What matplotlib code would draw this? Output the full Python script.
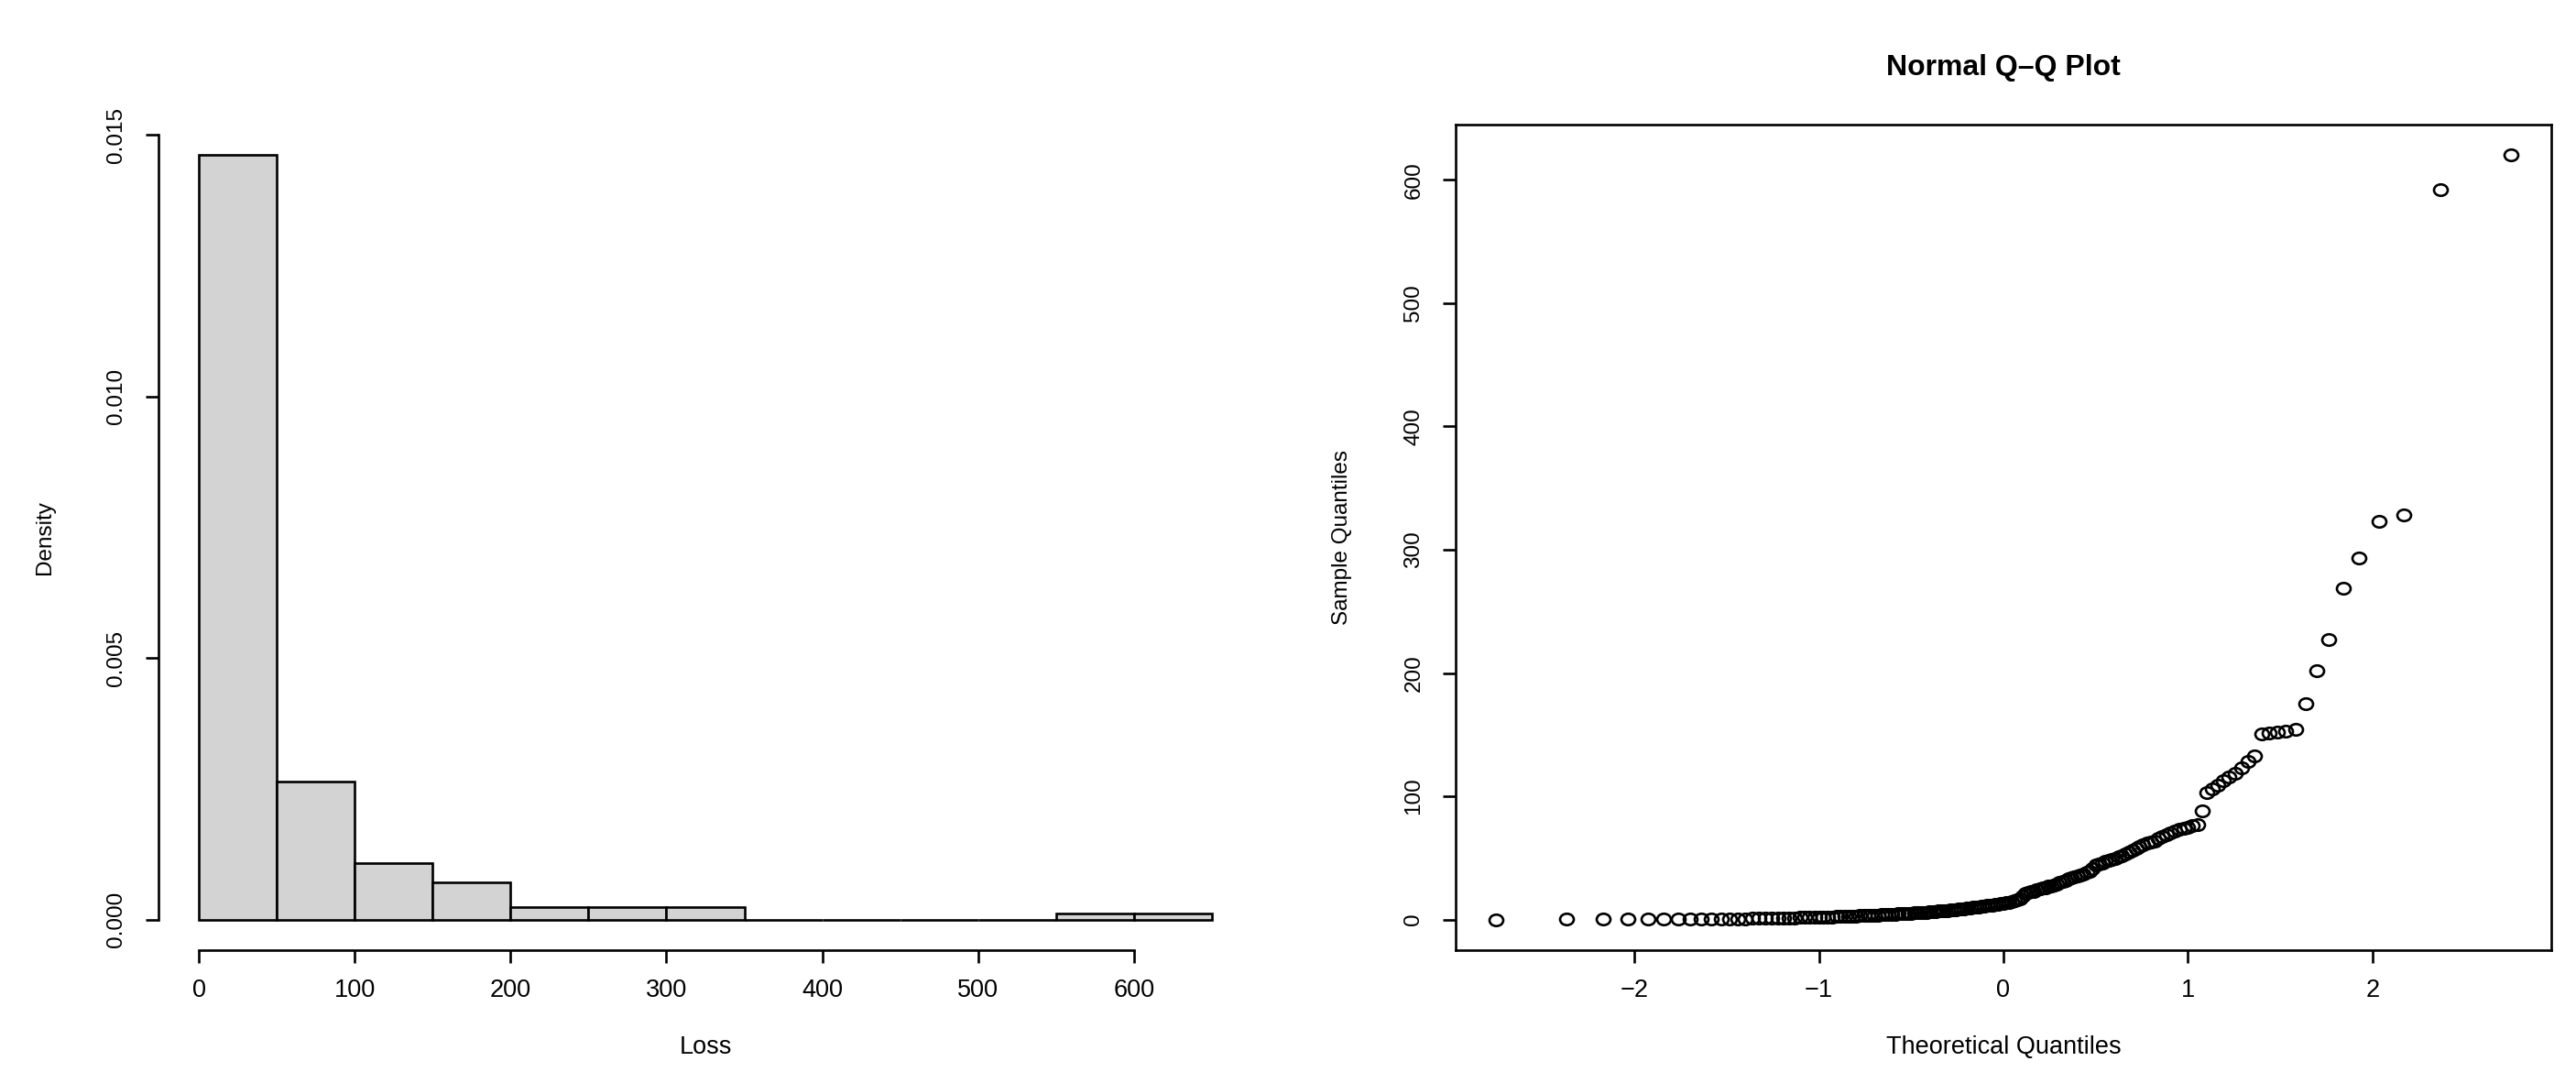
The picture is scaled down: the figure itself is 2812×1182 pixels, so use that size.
import statistics

import matplotlib
matplotlib.use("Agg")
import matplotlib.pyplot as plt
from matplotlib.markers import MarkerStyle
from matplotlib.transforms import Affine2D

loss = [
    0.0, 0.1, 0.2, 0.2, 0.3, 0.3, 0.4, 0.4, 0.5, 0.5,
    0.6, 0.7, 0.8, 0.8, 0.9, 1.0, 1.1, 1.2, 1.2, 1.3,
    1.4, 1.5, 1.6, 1.7, 1.8, 1.9, 2.0, 2.1, 2.2, 2.3,
    2.4, 2.5, 2.6, 2.8, 2.9, 3.0, 3.1, 3.2, 3.4, 3.5,
    3.6, 3.7, 3.9, 4.0, 4.1, 4.3, 4.4, 4.6, 4.7, 4.9,
    5.0, 5.2, 5.3, 5.5, 5.7, 5.8, 6.0, 6.2, 6.4, 6.6,
    6.8, 7.0, 7.2, 7.4, 7.7, 7.9, 8.1, 8.4, 8.6, 8.9,
    9.2, 9.5, 9.8, 10.1, 10.4, 10.7, 11.0, 11.3, 11.6, 11.9,
    12.2, 12.5, 12.8, 13.1, 13.5, 14.0, 14.5, 15.0, 16.0, 17.0,
    19.0, 21.0, 22.0, 22.5, 23.0, 24.0, 25.0, 25.5, 26.0, 27.0,
    27.5, 28.0, 29.0, 30.0, 31.0, 32.0, 33.0, 34.0, 35.0, 35.5,
    36.0, 37.0, 38.0, 39.0, 41.0, 44.0, 45.0, 46.0, 47.0, 48.0,
    49.0, 49.8,
    51, 52, 53, 55, 56, 58, 59, 61, 62, 63, 64, 66, 67, 69, 70,
    72, 73, 74, 75, 76, 77, 88,
    103, 106, 109, 113, 116, 119, 123, 128, 133,
    150.5, 151, 152, 153, 154, 175,
    202, 227, 269, 293, 323, 328, 592, 620,
]

breaks = [0, 50, 100, 150, 200, 250, 300, 350, 400, 450, 500, 550, 600, 650]
hist_xticks = [0, 100, 200, 300, 400, 500, 600]
hist_yticks = [0.0, 0.005, 0.010, 0.015]
qq_xticks = [-2, -1, 0, 1, 2]
qq_xlabels = ["\u22122", "\u22121", "0", "1", "2"]
qq_yticks = [0, 100, 200, 300, 400, 500, 600]

plt.rcParams['font.family'] = ['Liberation Sans', 'DejaVu Sans']
plt.rcParams['axes.linewidth'] = 1.9
plt.rcParams['xtick.major.width'] = 1.9
plt.rcParams['ytick.major.width'] = 1.9
plt.rcParams['xtick.major.size'] = 10
plt.rcParams['ytick.major.size'] = 10

FS_H = 19.5   # horizontal text (the reference is a bit wide)
FS_V = 17.5   # rotated text
W, H = 2812, 1182


def r_lim(lo, hi):
    # R style 4% axis expansion
    pad = (hi - lo) * 0.04
    return lo - pad, hi + pad


def style_axes(ax):
    ax.tick_params(axis='x', labelsize=FS_H, pad=12)
    ax.tick_params(axis='y', labelsize=FS_V, pad=15)
    for lab in ax.get_yticklabels():
        lab.set_rotation(90)
        lab.set_va('center')


fig = plt.figure(figsize=(W / 100, H / 100), dpi=100)
left = fig.add_axes([173 / W, 1 - 1037 / H, 1194 / W, 901 / H])
right = fig.add_axes([1589 / W, 1 - 1037 / H, 1196 / W, 901 / H])

# histogram
dens, _, _ = left.hist(loss, bins=breaks, density=True, color='#d3d3d3',
                       edgecolor='black', linewidth=1.9)
left.set_xlim(r_lim(breaks[0], breaks[-1]))
left.set_ylim(r_lim(0, max(dens)))
left.set_xticks(hist_xticks)
left.set_yticks(hist_yticks)
left.set_yticklabels([f"{v:.3f}" for v in hist_yticks])
left.spines['top'].set_visible(False)
left.spines['right'].set_visible(False)
left.spines['bottom'].set_bounds(hist_xticks[0], hist_xticks[-1])
left.spines['left'].set_bounds(hist_yticks[0], hist_yticks[-1])
style_axes(left)
left.set_xlabel("Loss", fontsize=FS_H)
left.set_ylabel("Density", fontsize=FS_V)

# normal Q-Q plot
n = len(loss)
nd = statistics.NormalDist()
theo = [nd.inv_cdf((i - 0.5) / n) for i in range(1, n + 1)]
wide_o = MarkerStyle('o', transform=Affine2D().scale(1.2, 1.0))
right.plot(theo, sorted(loss), linestyle='none', marker=wide_o, mfc='none',
           mec='black', ms=9, mew=1.9)
right.set_xlim(r_lim(min(theo), max(theo)))
right.set_ylim(r_lim(min(loss), max(loss)))
right.set_xticks(qq_xticks)
right.set_xticklabels(qq_xlabels)
right.set_yticks(qq_yticks)
style_axes(right)
right.set_xlabel("Theoretical Quantiles", fontsize=FS_H)
right.set_ylabel("Sample Quantiles", fontsize=FS_V)
right.text(0.5, 1 + 62 / 901, "Normal Q\u2013Q Plot", transform=right.transAxes,
           ha='center', va='center', fontsize=23, fontweight='bold')

for ax in (left, right):
    ax.xaxis.set_label_coords(0.5, -106 / 901)
    ax.xaxis.label.set_va('center')
    ax.yaxis.set_label_coords(-124 / 1195, 0.5)
    ax.yaxis.label.set_va('center')

fig.savefig("out.png", dpi=100, facecolor='white')
